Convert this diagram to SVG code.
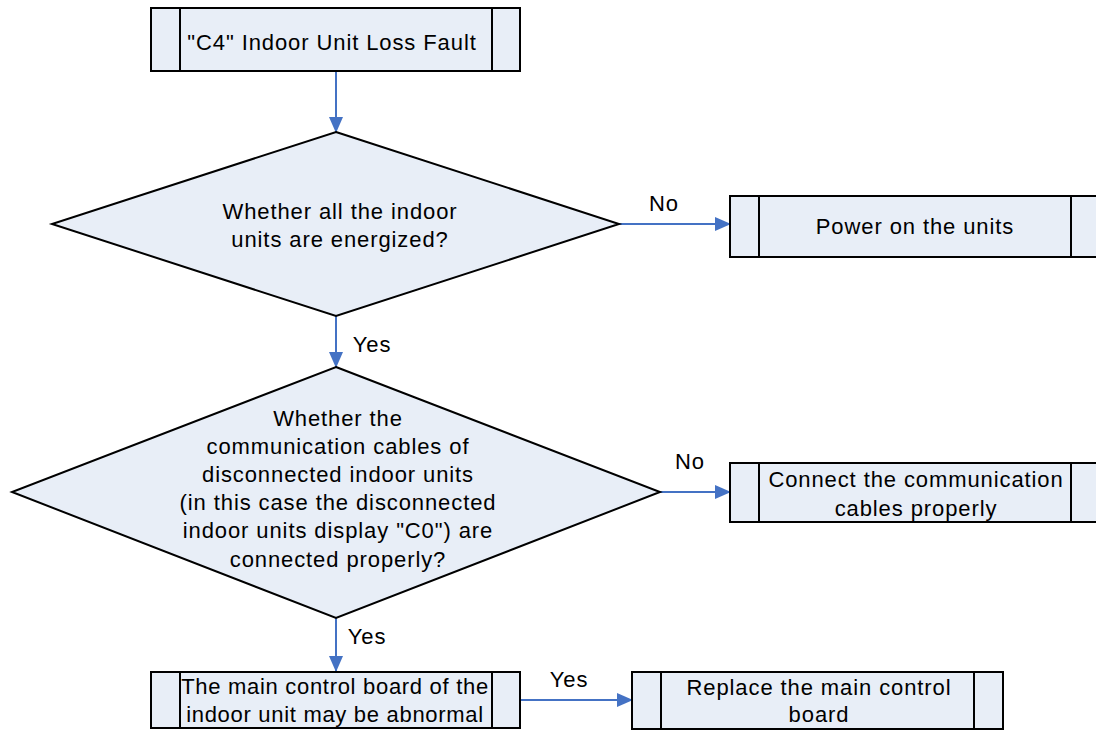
<svg xmlns="http://www.w3.org/2000/svg" width="1096" height="731" viewBox="0 0 1096 731">
<defs>
<marker id="ah" markerWidth="16" markerHeight="14" refX="15" refY="7" orient="auto" markerUnits="userSpaceOnUse">
<path d="M0,0 L16,7 L0,14 Z" fill="#4472C4"/>
</marker>
<style>
.box{fill:#E8EEF7;stroke:#000;stroke-width:2}
.ln{stroke:#000;stroke-width:2}
.t{font-family:"Liberation Sans",Arial,sans-serif;font-size:22px;letter-spacing:0.9px;fill:#000;text-anchor:middle}
.tn{letter-spacing:0.7px}
.c{stroke:#4472C4;stroke-width:2;fill:none}
</style>
</defs>
<rect width="1096" height="731" fill="#fff"/>
<g id="connectors">
<line class="c" x1="336" y1="72" x2="336" y2="132" marker-end="url(#ah)"/>
<line class="c" x1="619" y1="224" x2="730" y2="224" marker-end="url(#ah)"/>
<line class="c" x1="336" y1="316" x2="336" y2="367" marker-end="url(#ah)"/>
<line class="c" x1="660" y1="492" x2="730" y2="492" marker-end="url(#ah)"/>
<line class="c" x1="336" y1="618" x2="336" y2="671" marker-end="url(#ah)"/>
<line class="c" x1="520" y1="700" x2="632" y2="700" marker-end="url(#ah)"/>
<text class="t" x="664" y="211">No</text>
<text class="t" x="690" y="469">No</text>
<text class="t" x="372" y="352">Yes</text>
<text class="t" x="367" y="644">Yes</text>
<text class="t" x="569" y="687">Yes</text>
</g>
<g id="start">
<rect class="box" x="151" y="8" width="369" height="63"/>
<line class="ln" x1="180" y1="8" x2="180" y2="71"/>
<line class="ln" x1="492" y1="8" x2="492" y2="71"/>
<text class="t" x="332" y="50">"C4" Indoor Unit Loss Fault</text>
</g>
<g id="decision1">
<polygon class="box" points="336,132 619,224 336,316 52,224"/>
<text class="t" x="340" y="219">Whether all the indoor</text>
<text class="t" x="340" y="247">units are energized?</text>
</g>
<g id="power">
<rect class="box" x="730" y="196" width="380" height="61"/>
<line class="ln" x1="759" y1="196" x2="759" y2="257"/>
<line class="ln" x1="1071" y1="196" x2="1071" y2="257"/>
<text class="t" x="915" y="234">Power on the units</text>
</g>
<g id="decision2">
<polygon class="box" points="336,367 660,492 336,618 12,492"/>
<text class="t" x="338" y="426">Whether the</text>
<text class="t" x="338" y="454">communication cables of</text>
<text class="t" x="338" y="482">disconnected indoor units</text>
<text class="t" x="338" y="510">(in this case the disconnected</text>
<text class="t" x="338" y="538">indoor units display "C0") are</text>
<text class="t" x="338" y="567">connected properly?</text>
</g>
<g id="connect">
<rect class="box" x="730" y="463" width="380" height="59"/>
<line class="ln" x1="759" y1="463" x2="759" y2="522"/>
<line class="ln" x1="1071" y1="463" x2="1071" y2="522"/>
<text class="t" x="916" y="487">Connect the communication</text>
<text class="t" x="916" y="516">cables properly</text>
</g>
<g id="mainboard">
<rect class="box" x="151" y="672" width="369" height="56"/>
<line class="ln" x1="180" y1="672" x2="180" y2="728"/>
<line class="ln" x1="492" y1="672" x2="492" y2="728"/>
<text class="t tn" x="335" y="694">The main control board of the</text>
<text class="t tn" x="335" y="722">indoor unit may be abnormal</text>
</g>
<g id="replace">
<rect class="box" x="632" y="672" width="371" height="57"/>
<line class="ln" x1="661" y1="672" x2="661" y2="729"/>
<line class="ln" x1="974" y1="672" x2="974" y2="729"/>
<text class="t" x="819" y="695">Replace the main control</text>
<text class="t" x="819" y="722">board</text>
</g>
</svg>
